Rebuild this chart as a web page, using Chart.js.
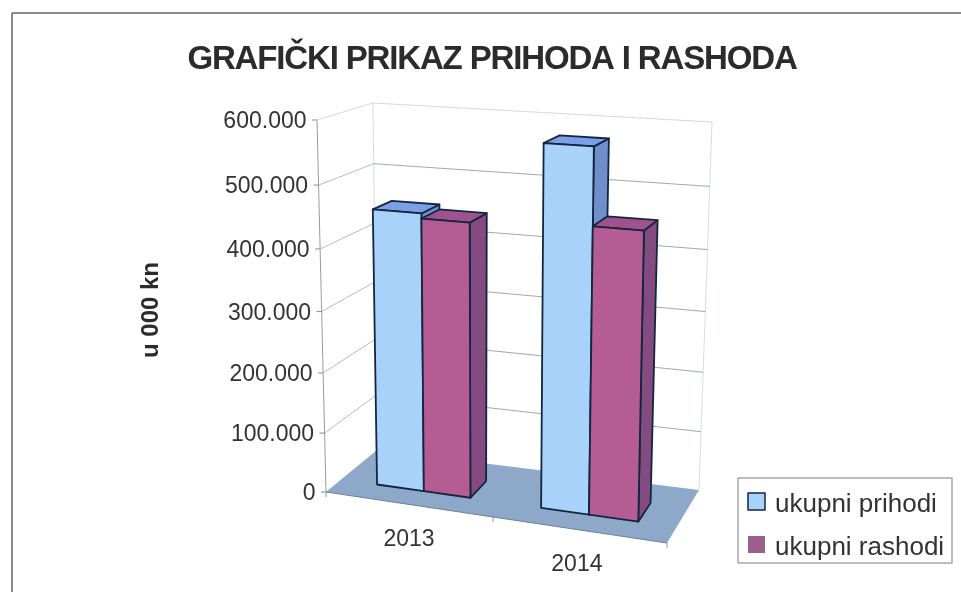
<!DOCTYPE html>
<html>
<head>
<meta charset="utf-8">
<title>Grafički prikaz prihoda i rashoda</title>
<script src="https://cdn.jsdelivr.net/npm/chart.js@4"></script>
<style>
  html, body { margin: 0; padding: 0; background: #fff; }
  canvas { display: block; }
</style>
</head>
<body>
<canvas id="chart" width="961" height="592"></canvas>
<script>
const categories = ['2013', '2014'];
const prihodi = [456000, 578000];
const rashodi = [448000, 458000];
const chartTitle = 'GRAFIČKI PRIKAZ PRIHODA I RASHODA';
const axisTitle = 'u 000 kn';

// Corners of the 3D box on the page. f = front, b = back
const box = {
    fbl: [326, 492], ftl: [317, 120], fbr: [667, 543], ftr: [675, 144],
    bbl: [377, 450], btl: [373, 103], bbr: [699, 490], btr: [712, 122]
};
const barDepth = [0.3, 0.66];

const styles = [
    { front: '#a9d2fb', top: '#7c9fe8', side: '#6f8fcc' },
    { front: '#b65c94', top: '#a0528e', side: '#834b7f' }
];
const outline = '#12263f';
const fontFamily = '"Liberation Sans", Arial, sans-serif';

function lerp(a, b, t) {
    return [a[0] + (b[0] - a[0]) * t, a[1] + (b[1] - a[1]) * t];
}

// u along the categories, v up the value axis, w into the depth
function project(u, v, w) {
    // small bend for the perspective of the original
    const pu = u - 0.08 * u * u * (1 - u);
    const pv = v - 0.06 * v * (1 - v);
    const front = lerp(lerp(box.fbl, box.fbr, pu), lerp(box.ftl, box.ftr, pu), pv);
    const back = lerp(lerp(box.bbl, box.bbr, pu), lerp(box.btl, box.btr, pu), pv);
    return lerp(front, back, w);
}

function polygon(ctx, pts, fill, stroke, lineWidth) {
    ctx.beginPath();
    pts.forEach((p, i) => i ? ctx.lineTo(p[0], p[1]) : ctx.moveTo(p[0], p[1]));
    ctx.closePath();
    if (fill) { ctx.fillStyle = fill; ctx.fill(); }
    if (stroke) { ctx.strokeStyle = stroke; ctx.lineWidth = lineWidth || 1; ctx.lineJoin = 'round'; ctx.stroke(); }
}

function line(ctx, a, b, color, lineWidth) {
    ctx.beginPath();
    ctx.moveTo(a[0], a[1]);
    ctx.lineTo(b[0], b[1]);
    ctx.strokeStyle = color;
    ctx.lineWidth = lineWidth || 1;
    ctx.stroke();
}

const frame3d = {
    id: 'frame3d',
    beforeDraw(chart) {
        // the scanned title is set tight
        chart.ctx.letterSpacing = '-1.15px';
    },
    beforeDatasetsDraw(chart) {
        const { ctx, chartArea: area, scales } = chart;
        const toU = x => (x - area.left) / (area.right - area.left);
        const toV = y => (area.bottom - y) / (area.bottom - area.top);
        ctx.letterSpacing = '0px';
        ctx.save();

        // outer frame, only top and left show in the scan
        line(ctx, [12, 13], [961, 13], '#666', 1.5);
        line(ctx, [12, 13], [12, 592], '#666', 1.5);

        // floor
        polygon(ctx, [project(0, 0, 0), project(1, 0, 0), project(1, 0, 1), project(0, 0, 1)], '#8ea8c9');

        // walls
        line(ctx, project(0, 0, 1), project(0, 1, 1), '#d3dfe0');
        line(ctx, project(1, 0, 1), project(1, 1, 1), '#d3dfe0');
        line(ctx, project(0, 0, 0), project(0, 1, 0), '#9a9a9a');

        // gridlines and value labels
        ctx.font = '23px ' + fontFamily;
        ctx.textAlign = 'right';
        ctx.textBaseline = 'middle';
        scales.y.ticks.forEach((tick, i) => {
            const v = toV(scales.y.getPixelForTick(i));
            const color = tick.value === 600000 ? '#d4d9d9' : '#a3a7a7';
            const p = project(0, v, 0);
            if (tick.value > 0) {
                line(ctx, p, project(0, v, 1), tick.value === 600000 ? '#d4d9d9' : '#b8bcbc');
                line(ctx, project(0, v, 1), project(1, v, 1), color);
            }
            line(ctx, [p[0] - 5, p[1]], p, '#8a8a8a');
            ctx.fillStyle = '#333';
            ctx.fillText(tick.label, p[0] - 10.5, p[1] + 2);
        });

        // category ticks and labels along the front edge of the floor
        [0, 0.5, 1].forEach(u => {
            const p = project(u, 0, 0);
            line(ctx, p, [p[0], p[1] + 5], '#999');
        });
        line(ctx, project(0, 0, 0), project(1, 0, 0), '#6b7f95');
        ctx.textAlign = 'center';
        categories.forEach((label, i) => {
            const p = project(toU(scales.x.getPixelForTick(i)), 0, 0);
            ctx.fillText(label, p[0] - 1, p[1] + 35);
        });

        // axis title
        ctx.save();
        ctx.translate(151, 310);
        ctx.rotate(-Math.PI / 2);
        ctx.font = 'bold 24px ' + fontFamily;
        ctx.fillStyle = '#2b2b2b';
        ctx.fillText(axisTitle, 0, 0);
        ctx.restore();

        // bars: back to front, left to right
        categories.forEach((cat, c) => {
            chart.data.datasets.forEach((ds, d) => {
                const bar = chart.getDatasetMeta(d).data[c];
                const u0 = toU(bar.x - bar.width / 2);
                const u1 = toU(bar.x + bar.width / 2);
                const v1 = toV(bar.y);
                const [w0, w1] = barDepth;
                const s = styles[d];
                polygon(ctx, [project(u1, 0, w0), project(u1, 0, w1), project(u1, v1, w1), project(u1, v1, w0)], s.side, outline, 1.8);
                polygon(ctx, [project(u0, v1, w0), project(u1, v1, w0), project(u1, v1, w1), project(u0, v1, w1)], s.top, outline, 1.8);
                polygon(ctx, [project(u0, 0, w0), project(u1, 0, w0), project(u1, v1, w0), project(u0, v1, w0)], s.front, outline, 1.8);
            });
        });

        // legend
        polygon(ctx, [[738, 478], [952, 478], [952, 563], [738, 563]], '#fff', '#a8a8a8', 1.5);
        ctx.textAlign = 'left';
        ctx.textBaseline = 'alphabetic';
        ctx.font = '26px ' + fontFamily;
        chart.data.datasets.forEach((ds, d) => {
            const y = 493 + d * 43;
            ctx.fillStyle = d === 0 ? styles[0].front : '#9c5f8c';
            ctx.fillRect(748, y, 17, 17);
            if (d === 0) {
                ctx.strokeStyle = outline;
                ctx.lineWidth = 1.5;
                ctx.strokeRect(748, y, 17, 17);
            }
            ctx.fillStyle = '#333';
            ctx.fillText(ds.label, 775, y + 19);
        });

        ctx.restore();
        return false; // the bars are done above, skip the flat ones
    }
};

new Chart(document.getElementById('chart'), {
    type: 'bar',
    data: {
        labels: categories,
        datasets: [
            { label: 'ukupni prihodi', data: prihodi, backgroundColor: styles[0].front },
            { label: 'ukupni rashodi', data: rashodi, backgroundColor: styles[1].front }
        ]
    },
    options: {
        responsive: false,
        animation: false,
        events: [],
        layout: { padding: { left: 23, right: 0, top: 0, bottom: 100 } },
        datasets: { bar: { categoryPercentage: 0.57, barPercentage: 1 } },
        plugins: {
            legend: { display: false },
            tooltip: { enabled: false },
            title: {
                display: true,
                text: chartTitle,
                color: '#2b2b2b',
                font: { family: fontFamily, size: 33, weight: 'bold', lineHeight: 1.2 },
                padding: { top: 40, bottom: 40 }
            }
        },
        scales: {
            x: { display: false },
            y: {
                min: 0,
                max: 600000,
                afterFit: scale => { scale.width = 303; },
                ticks: {
                    display: false,
                    stepSize: 100000,
                    callback: value => value.toLocaleString('de-DE')
                },
                grid: { display: false },
                border: { display: false }
            }
        }
    },
    plugins: [frame3d]
});
</script>
</body>
</html>
